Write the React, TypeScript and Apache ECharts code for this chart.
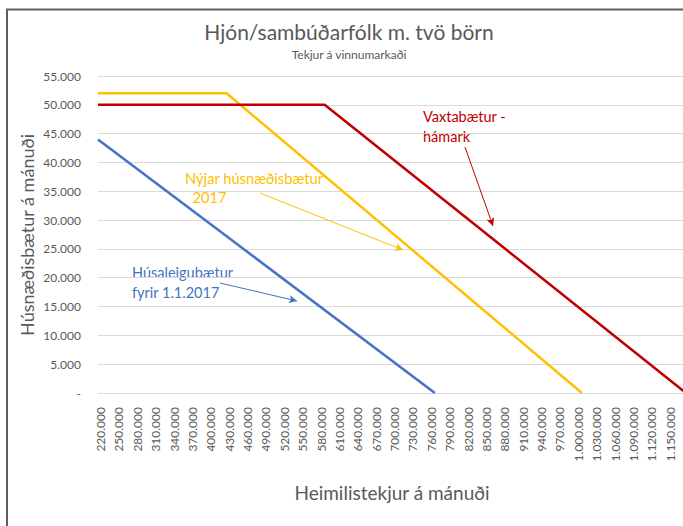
import React, { useEffect, useRef } from "react";
import * as echarts from "echarts";

// Income categories (kr./month), every 10.000; every third one is labelled
const categories: number[] = [
  220000, 230000, 240000, 250000, 260000, 270000, 280000, 290000, 300000, 310000,
  320000, 330000, 340000, 350000, 360000, 370000, 380000, 390000, 400000, 410000,
  420000, 430000, 440000, 450000, 460000, 470000, 480000, 490000, 500000, 510000,
  520000, 530000, 540000, 550000, 560000, 570000, 580000, 590000, 600000, 610000,
  620000, 630000, 640000, 650000, 660000, 670000, 680000, 690000, 700000, 710000,
  720000, 730000, 740000, 750000, 760000, 770000, 780000, 790000, 800000, 810000,
  820000, 830000, 840000, 850000, 860000, 870000, 880000, 890000, 900000, 910000,
  920000, 930000, 940000, 950000, 960000, 970000, 980000, 990000, 1000000, 1010000,
  1020000, 1030000, 1040000, 1050000, 1060000, 1070000, 1080000, 1090000, 1100000, 1110000,
  1120000, 1130000, 1140000, 1150000, 1160000, 1170000, 1180000,
];

// Break points of each series: [income, benefit per month]
const husaleigubaetur: [number, number][] = [
  [220000, 44000],
  [770000, 0],
];
const nyjarHusnaedisbaetur: [number, number][] = [
  [220000, 52000],
  [430000, 52000],
  [1010000, 0],
];
const vaxtabaetur: [number, number][] = [
  [220000, 50000],
  [590000, 50000],
  [1180000, 0],
];

const seriesNames = ["Húsaleigubætur fyrir 1.1.2017", "Nýjar húsnæðisbætur 2017", "Vaxtabætur - hámark"];
const colors = ["#4472C4", "#FFC000", "#C00000"];

const FONT = "Lato, 'Open Sans', sans-serif";
const GRAY = "#595959";

function fmt(v: number): string {
  if (v === 0) return "-";
  return String(Math.round(v)).replace(/\B(?=(\d{3})+(?!\d))/g, ".");
}

export default function App() {
  const ref = useRef<HTMLDivElement>(null);
  useEffect(() => {
    if (!ref.current) return;
    const chart = echarts.init(ref.current, null, { renderer: "svg" });
    const arrow = (color: string, from: [number, number], to: [number, number]) => ({
      silent: true,
      symbol: ["none", "arrow"],
      symbolSize: [6, 8],
      label: { show: false },
      lineStyle: { color, width: 1, type: "solid" },
      emphasis: { disabled: true },
      data: [[{ x: from[0], y: from[1] }, { x: to[0], y: to[1] }]],
    });
    const mk = (i: number, pts: [number, number][], markLine: any) => ({
      name: seriesNames[i],
      type: "line",
      data: pts.map(([x, y]) => [String(x), y]),
      showSymbol: false,
      symbol: "none",
      lineStyle: { color: colors[i], width: 2.5 },
      itemStyle: { color: colors[i] },
      z: 3 + i,
      markLine,
    });
    const last = categories.length - 1;
    chart.setOption({
      animation: false,
      backgroundColor: "#ffffff",
      title: [
        {
          text: "Hjón/sambúðarfólk m. tvö börn",
          left: 349,
          textAlign: "center",
          top: 21,
          padding: 0,
          textStyle: { fontFamily: FONT, fontSize: 21, fontWeight: "normal", color: GRAY },
        },
        {
          text: "Tekjur á vinnumarkaði",
          left: 349,
          textAlign: "center",
          top: 48,
          padding: 0,
          textStyle: { fontFamily: FONT, fontSize: 12, fontWeight: "normal", color: GRAY },
        },
      ],
      grid: { left: 98, right: 14, top: 76, bottom: 133, containLabel: false },
      xAxis: {
        type: "category",
        data: categories.map(String),
        boundaryGap: false,
        axisLine: { show: false },
        axisTick: { show: false },
        splitLine: { show: false },
        axisLabel: {
          rotate: 90,
          margin: 14,
          lineHeight: 5,
          verticalAlign: "top",
          color: GRAY,
          fontFamily: FONT,
          fontSize: 12,
          showMinLabel: true,
          showMaxLabel: true,
          hideOverlap: false,
          interval: (idx: number) => idx % 3 === 0 && idx < last,
          formatter: (v: string) => fmt(Number(v)),
        },
      },
      yAxis: {
        type: "value",
        min: 0,
        max: 55000,
        interval: 5000,
        axisLine: { show: false },
        axisTick: { show: false },
        splitLine: { lineStyle: { color: "#D9D9D9", width: 1 } },
        axisLabel: { color: GRAY, fontFamily: FONT, fontSize: 12, margin: 17, formatter: fmt },
      },
      series: [
        mk(0, husaleigubaetur, arrow(colors[0], [220, 283], [297, 301])),
        mk(1, nyjarHusnaedisbaetur, arrow(colors[1], [260, 193], [403, 250])),
        mk(2, vaxtabaetur, arrow(colors[2], [465, 147], [493, 226])),
      ],
      graphic: [
        {
          type: "rect",
          shape: { x: 7, y: 9.5, width: 760, height: 600 },
          style: { fill: "none", stroke: "#5f5f5f", lineWidth: 2 },
          silent: true,
          z: 100,
        },
        {
          type: "text",
          x: 27,
          y: 235,
          rotation: Math.PI / 2,
          style: {
            text: "Húsnæðisbætur á mánuði",
            align: "center",
            verticalAlign: "middle",
            fill: GRAY,
            font: `18px ${FONT}`,
          },
        },
        {
          type: "text",
          x: 392,
          y: 492,
          style: {
            text: "Heimilistekjur á mánuði",
            align: "center",
            verticalAlign: "middle",
            fill: GRAY,
            font: `19px ${FONT}`,
          },
        },
        {
          type: "text",
          x: 423,
          y: 106,
          style: {
            text: "Vaxtabætur -\nhámark",
            align: "left",
            verticalAlign: "top",
            lineHeight: 20,
            fill: "#C00000",
            font: `14.5px ${FONT}`,
          },
        },
        {
          type: "text",
          x: 185,
          y: 168,
          style: {
            text: "Nýjar húsnæðisbætur\n  2017",
            align: "left",
            verticalAlign: "top",
            lineHeight: 19,
            fill: "#FFC000",
            font: `14.7px ${FONT}`,
          },
        },
        {
          type: "text",
          x: 132,
          y: 262,
          style: {
            text: "Húsaleigubætur\nfyrir 1.1.2017",
            align: "left",
            verticalAlign: "top",
            lineHeight: 20,
            fill: "#4472C4",
            font: `14.5px ${FONT}`,
          },
        },
      ],
    });
    return () => chart.dispose();
  }, []);
  return (
    <div style={{ position: "fixed", left: 0, top: 0, width: 683, height: 526, overflow: "hidden", background: "#fff" }}>
      <div ref={ref} style={{ width: 700, height: 526 }} />
    </div>
  );
}
